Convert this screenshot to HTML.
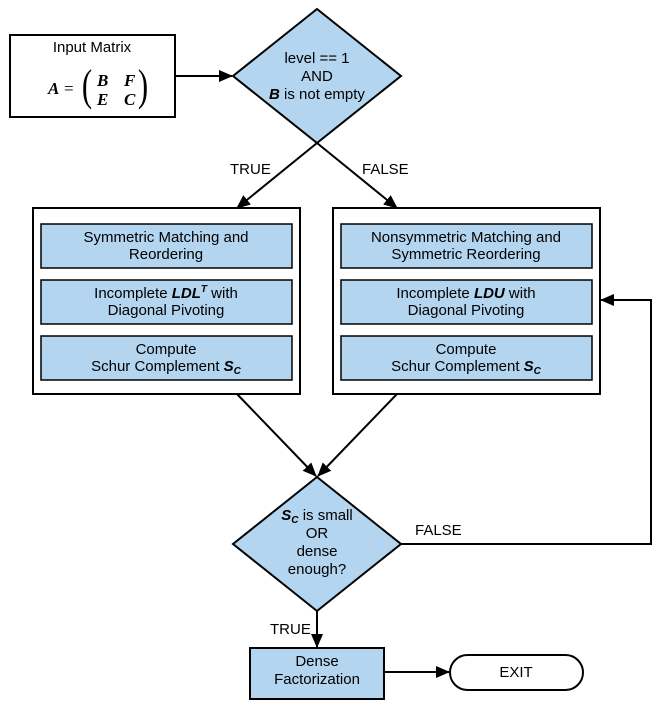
<!DOCTYPE html>
<html><head><style>body{margin:0;background:#fff}svg{display:block}text{font-family:"Liberation Sans",sans-serif;font-size:15px;fill:#000}</style></head>
<body>
<svg width="664" height="701" viewBox="0 0 664 701" xmlns="http://www.w3.org/2000/svg">
<defs><marker id="a" markerWidth="14" markerHeight="12" refX="13" refY="6" orient="auto" markerUnits="userSpaceOnUse"><path d="M0,0L14,6L0,12z" fill="#000"/></marker></defs>
<g stroke="#000" stroke-width="2" fill="none">
<rect x="10" y="35" width="165" height="82" fill="#fff"/>
<line x1="175" y1="76" x2="232" y2="76" marker-end="url(#a)"/>
<polygon points="317,9 401,76 317,143 233,76" fill="#b3d5ef"/>
<line x1="317" y1="143" x2="237" y2="208" marker-end="url(#a)"/>
<line x1="317" y1="143" x2="397" y2="208" marker-end="url(#a)"/>
<rect x="33" y="208" width="267" height="186" fill="#fff"/>
<rect x="333" y="208" width="267" height="186" fill="#fff"/>
<line x1="237" y1="394" x2="316" y2="476" marker-end="url(#a)"/>
<line x1="397" y1="394" x2="318" y2="476" marker-end="url(#a)"/>
<polygon points="317,477 401,544 317,611 233,544" fill="#b3d5ef"/>
<polyline points="401,544 651,544 651,300 601,300" marker-end="url(#a)"/>
<line x1="317" y1="611" x2="317" y2="647" marker-end="url(#a)"/>
<rect x="250" y="648" width="134" height="51" fill="#b3d5ef"/>
<line x1="384" y1="672" x2="449" y2="672" marker-end="url(#a)"/>
<rect x="450" y="655" width="133" height="35" rx="17.5" fill="#fff"/>
</g>
<g stroke="#000" stroke-width="1.5" fill="#b3d5ef">
<rect x="41" y="224" width="251" height="44"/><rect x="41" y="280" width="251" height="44"/><rect x="41" y="336" width="251" height="44"/>
<rect x="341" y="224" width="251" height="44"/><rect x="341" y="280" width="251" height="44"/><rect x="341" y="336" width="251" height="44"/>
</g>
<g text-anchor="middle">
<text x="92" y="52">Input Matrix</text>
<text x="317" y="63">level == 1</text>
<text x="317" y="81">AND</text>
<text x="317" y="99"><tspan font-weight="bold" font-style="italic">B</tspan> is not empty</text>
<text x="166" y="242">Symmetric Matching and</text><text x="166" y="259">Reordering</text>
<text x="166" y="298">Incomplete <tspan font-weight="bold" font-style="italic">LDL</tspan><tspan font-weight="bold" font-style="italic" font-size="10" dy="-6">T</tspan><tspan dy="6"> with</tspan></text><text x="166" y="315">Diagonal Pivoting</text>
<text x="166" y="354">Compute</text><text x="166" y="371">Schur Complement <tspan font-weight="bold" font-style="italic">S</tspan><tspan font-weight="bold" font-style="italic" font-size="10" dy="3">C</tspan></text>
<text x="466" y="242">Nonsymmetric Matching and</text><text x="466" y="259">Symmetric Reordering</text>
<text x="466" y="298">Incomplete <tspan font-weight="bold" font-style="italic">LDU</tspan> with</text><text x="466" y="315">Diagonal Pivoting</text>
<text x="466" y="354">Compute</text><text x="466" y="371">Schur Complement <tspan font-weight="bold" font-style="italic">S</tspan><tspan font-weight="bold" font-style="italic" font-size="10" dy="3">C</tspan></text>
<text x="317" y="520"><tspan font-weight="bold" font-style="italic">S</tspan><tspan font-weight="bold" font-style="italic" font-size="10" dy="3">C</tspan><tspan dy="-3"> is small</tspan></text>
<text x="317" y="538">OR</text><text x="317" y="556">dense</text><text x="317" y="574">enough?</text>
<text x="317" y="666">Dense</text><text x="317" y="684">Factorization</text>
<text x="516" y="677">EXIT</text>
</g>
<text x="230" y="174">TRUE</text>
<text x="362" y="174">FALSE</text>
<text x="415" y="535">FALSE</text>
<text x="270" y="634">TRUE</text>
<g>
<text x="48" y="94" style="font-family:'Liberation Serif',serif;font-size:17px;font-weight:bold;font-style:italic">A</text>
<text x="64" y="94" style="font-family:'Liberation Serif',serif;font-size:17px">=</text>
<text x="82" y="100" style="font-family:'Liberation Serif',serif;font-size:44px" transform="scale(0.7,1) translate(35,0)">(</text>
<text x="97" y="86" style="font-family:'Liberation Serif',serif;font-size:17px;font-weight:bold;font-style:italic">B</text>
<text x="124" y="86" style="font-family:'Liberation Serif',serif;font-size:17px;font-weight:bold;font-style:italic">F</text>
<text x="97" y="105" style="font-family:'Liberation Serif',serif;font-size:17px;font-weight:bold;font-style:italic">E</text>
<text x="124" y="105" style="font-family:'Liberation Serif',serif;font-size:17px;font-weight:bold;font-style:italic">C</text>
<text x="197" y="100" style="font-family:'Liberation Serif',serif;font-size:44px" transform="scale(0.7,1)">)</text>
</g>
</svg>
</body></html>
